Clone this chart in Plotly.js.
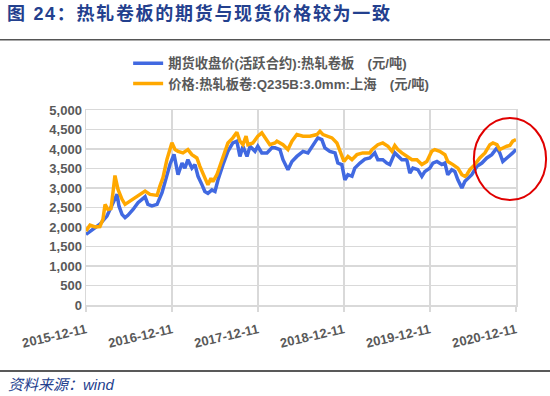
<!DOCTYPE html>
<html>
<head>
<meta charset="utf-8">
<script src="https://cdn.plot.ly/plotly-3.0.1.min.js"></script>
<style>
html,body{margin:0;padding:0;background:#fff;}
#wrap{position:relative;width:550px;height:396px;}
#chart{width:550px;height:396px;}
#title{position:absolute;left:7px;top:3px;font-family:"Liberation Sans","Noto Sans CJK SC",sans-serif;
  font-size:18px;font-weight:bold;color:#23408e;letter-spacing:1.7px;white-space:nowrap;line-height:22px;}
</style>
</head>
<body>
<div id="wrap">
<div id="chart"></div>
<div id="title"></div>
</div>
<script>
// ---- data ----
var seriesNames = ["期货收盘价(活跃合约):热轧卷板　(元/吨)", "价格:热轧板卷:Q235B:3.0mm:上海　(元/吨)"];

var futDates = ["2015-12-11","2016-02-08","2016-03-09","2016-04-04","2016-04-21","2016-04-29","2016-05-12","2016-05-25","2016-06-06","2016-06-28","2016-07-19","2016-08-18","2016-08-30","2016-09-16","2016-10-08","2016-10-29","2016-11-15","2016-12-02","2016-12-19","2016-12-23",
"2017-01-05","2017-01-22","2017-02-03","2017-02-16","2017-03-05","2017-03-18","2017-03-31","2017-04-17","2017-04-29","2017-05-12","2017-05-29","2017-06-11","2017-06-24","2017-07-15","2017-08-05","2017-08-26","2017-09-12","2017-09-25","2017-10-08","2017-10-25","2017-11-07","2017-11-28","2017-12-10","2017-12-27",
"2018-01-18","2018-02-08","2018-02-21","2018-03-14","2018-03-27","2018-04-17","2018-05-04","2018-05-25","2018-06-20","2018-07-11","2018-08-01","2018-08-22","2018-09-08","2018-09-21","2018-10-12","2018-11-03","2018-11-15","2018-12-02","2018-12-15","2018-12-28",
"2019-01-14","2019-01-26","2019-02-17","2019-03-10","2019-03-31","2019-04-21","2019-05-04","2019-05-25","2019-06-11","2019-06-24","2019-07-15","2019-07-28","2019-08-14","2019-09-04","2019-09-17","2019-09-30","2019-10-21","2019-11-07","2019-11-20","2019-12-11","2019-12-24",
"2020-01-10","2020-01-31","2020-02-13","2020-02-25","2020-03-13","2020-03-26","2020-04-08","2020-04-25","2020-05-08","2020-05-20","2020-06-06","2020-06-28","2020-07-19","2020-08-09","2020-08-30","2020-09-21","2020-10-03","2020-10-16","2020-11-02","2020-11-15","2020-11-27","2020-12-11"];
var futValues = [1810,2070,2280,2625,2840,2540,2325,2240,2300,2450,2625,2775,2580,2540,2580,2880,3265,3610,3860,3725,
3340,3640,3510,3725,3510,3600,3300,3080,2910,2865,2950,2910,3210,3600,3940,4155,4200,3810,4070,3810,4070,3940,4070,3900,
3900,4030,4030,3985,3725,3470,3680,3810,3940,3900,4110,4285,4240,4030,3940,3900,3640,3600,3210,3340,
3300,3510,3640,3740,3770,3900,3725,3725,3640,3600,3900,3810,3725,3725,3380,3510,3470,3300,3425,3510,3640,
3680,3600,3640,3340,3470,3425,3210,3000,3170,3250,3340,3555,3640,3770,3855,4030,3900,3680,3770,3810,3900,3985];

var spotDates = ["2015-12-11","2015-12-28","2016-01-18","2016-02-08","2016-02-21","2016-03-01","2016-03-13","2016-03-26","2016-04-04","2016-04-12","2016-04-25","2016-05-12","2016-05-25","2016-06-15","2016-07-15","2016-08-18","2016-09-08","2016-10-08","2016-10-20","2016-11-02","2016-11-19","2016-12-10","2016-12-23",
"2017-01-05","2017-01-26","2017-02-16","2017-03-05","2017-03-26","2017-04-08","2017-04-21","2017-05-08","2017-05-12","2017-05-25","2017-06-02","2017-06-19","2017-07-11","2017-08-05","2017-08-26","2017-09-12","2017-09-25","2017-10-08","2017-10-21","2017-10-29","2017-11-19","2017-12-10","2017-12-27",
"2018-01-18","2018-01-30","2018-02-21","2018-03-01","2018-03-27","2018-04-17","2018-05-04","2018-05-25","2018-06-20","2018-07-19","2018-08-18","2018-08-31","2018-09-13","2018-10-04","2018-10-21","2018-11-11","2018-11-24","2018-12-11","2018-12-28",
"2019-01-14","2019-02-04","2019-03-01","2019-03-31","2019-04-09","2019-05-04","2019-05-25","2019-06-16","2019-07-03","2019-07-15","2019-07-28","2019-08-14","2019-09-04","2019-09-26","2019-10-17","2019-11-07","2019-11-28","2019-12-19",
"2020-01-01","2020-01-22","2020-02-13","2020-02-25","2020-03-18","2020-04-08","2020-04-25","2020-05-08","2020-05-16","2020-05-29","2020-06-19","2020-07-10","2020-08-01","2020-08-22","2020-09-04","2020-09-21","2020-10-03","2020-10-16","2020-11-02","2020-11-15","2020-11-27","2020-12-11"];
var spotValues = [1900,2050,2000,2010,2200,2580,2450,2470,2900,3320,2965,2710,2580,2665,2780,2920,2835,2810,3050,3265,3735,4160,3985,
3940,3900,3985,3855,3770,3555,3380,3165,3080,3250,3165,3340,3725,4155,4285,4430,4200,4110,4330,4110,4155,4330,4415,
4240,4110,4155,4200,4110,3985,4200,4370,4330,4330,4370,4455,4370,4330,4285,4155,3940,3680,3810,
3725,3855,3900,3900,3985,4110,4155,4070,3940,4090,3985,3900,3810,3725,3725,3600,3680,3940,
3985,3940,3855,3680,3600,3510,3340,3300,3340,3470,3600,3770,3900,4110,4155,4110,3985,4030,4070,4090,4200,4240];

var xTickVals = ["2015-12-11","2016-12-11","2017-12-11","2018-12-11","2019-12-11","2020-12-11"];
var xTickText = ["2015-12-11","2016-12-11","2017-12-11","2018-12-11","2019-12-11","2020-12-11"];

var titleText = "图 24：热轧卷板的期货与现货价格较为一致";
var sourceText = "资料来源：wind";

// ---- chart ----
document.getElementById("title").textContent = titleText;

var FONT = "Liberation Sans, Arial, Noto Sans CJK SC, sans-serif";
var CJK = "Liberation Sans, Noto Sans CJK SC, sans-serif";
var grey = "#595959";
var grid = "#d9d9d9";

var traces = [
  {x: futDates, y: futValues, type: "scatter", mode: "lines", name: seriesNames[0],
   line: {color: "#4169E1", width: 3.5}},
  {x: spotDates, y: spotValues, type: "scatter", mode: "lines", name: seriesNames[1],
   line: {color: "#FFA800", width: 3.5}}
];

var layout = {
  width: 550, height: 396,
  margin: {l: 86, r: 34, t: 110, b: 91},
  paper_bgcolor: "#fff", plot_bgcolor: "#fff",
  showlegend: true,
  legend: {x: 0.098, xanchor: "left", y: 1.318, yanchor: "top", bgcolor: "rgba(0,0,0,0)",
           font: {family: CJK, size: 13.3, color: grey, weight: "bold"}, tracegroupgap: 0},
  xaxis: {type: "date", range: ["2015-12-11", "2020-12-11"],
          tickmode: "array", tickvals: xTickVals, ticktext: xTickText, tickangle: -13,
          ticklabelstandoff: 6,
          tickfont: {family: FONT, size: 13, color: grey, weight: "bold"},
          showgrid: true, gridcolor: grid, gridwidth: 1.5,
          showline: true, linecolor: grid, linewidth: 1.5, mirror: true,
          ticks: "outside", ticklen: 5, tickcolor: grid, tickwidth: 1.5, zeroline: false},
  yaxis: {range: [0, 5000], dtick: 500, tick0: 0, tickformat: ",d",
          tickfont: {family: FONT, size: 13, color: grey, weight: "bold"},
          showgrid: true, gridcolor: grid, gridwidth: 1.5,
          showline: true, linecolor: grid, linewidth: 1.5, mirror: true,
          ticks: "", zeroline: false},
  shapes: [
    {type: "line", xref: "paper", yref: "paper", x0: -0.2, x1: 1.08, y0: 1.36, y1: 1.36,
     line: {color: "#555", width: 1.5}},
    {type: "line", xref: "paper", yref: "paper", x0: -0.2, x1: 1.08, y0: -0.338, y1: -0.338,
     line: {color: "#222", width: 1.5}},
    {type: "circle", xref: "paper", yref: "paper", x0: 0.902, x1: 1.070, y0: 0.538, y1: 0.959,
     line: {color: "#E00000", width: 2}}
  ],
  annotations: [
    {text: sourceText, xref: "paper", yref: "paper", x: -0.186, y: -0.41, xanchor: "left", yanchor: "middle",
     showarrow: false, font: {family: CJK, size: 15, color: "#23408e", style: "italic"}}
  ]
};

Plotly.newPlot("chart", traces, layout, {displayModeBar: false, staticPlot: true});
</script>
</body>
</html>
